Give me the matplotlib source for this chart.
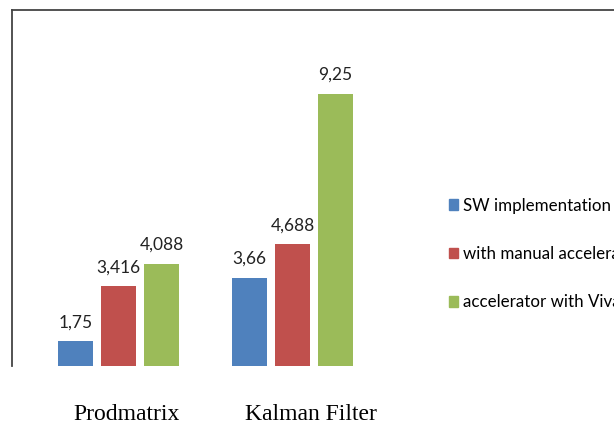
"""
Grouped bar chart: speed-up of Prodmatrix and Kalman Filter
"""
import matplotlib.pyplot as plt
from matplotlib.patches import Patch
from matplotlib.transforms import ScaledTranslation
import numpy as np

CATEGORIES = ["Prodmatrix", "Kalman Filter"]
SERIES = ["SW implementation", "with manual acceleration", "accelerator with Vivado HLS"]
SW_VALUES = [1.75, 3.66]
MANUAL_VALUES = [3.416, 4.688]
HLS_VALUES = [4.088, 9.25]

COLORS = ["#4F81BD", "#C0504D", "#9BBB59"]

plt.rcParams["font.family"] = ["Lato", "DejaVu Sans"]

fig = plt.figure(figsize=(6.14, 4.26), dpi=100)
fig.patch.set_facecolor("white")

# axes runs past the right edge of the figure, so the frame is cut off there
ax = fig.add_axes([12 / 614, 60 / 426, 1.2, 356 / 426])

x = np.arange(len(CATEGORIES))
step = 0.247
width = 0.2
for i, (vals, name) in enumerate(zip([SW_VALUES, MANUAL_VALUES, HLS_VALUES], SERIES)):
    bars = ax.bar(x + (i - 1) * step, np.array(vals) - 1, bottom=1, width=width,
                  color=COLORS[i], label=name)
    ax.bar_label(bars, labels=[str(v).replace(".", ",") for v in vals],
                 padding=8, fontsize=12.5, color="#222222")

ax.set_xlim(-0.612, -0.612 + 1.2 * 614 / 174)
ax.set_ylim(1, 1 + 356 / 33)

for side in ["bottom", "right"]:
    ax.spines[side].set_visible(False)
for side in ["left", "top"]:
    ax.spines[side].set_color("#444444")
    ax.spines[side].set_linewidth(1.3)
ax.set_yticks([])
ax.set_xticks(x)
ax.set_xticklabels(CATEGORIES, family="Liberation Serif", fontsize=17)
ax.tick_params(axis="x", length=0, pad=27)
# the category names sit a little right of their bar groups
for lab, dx in zip(ax.get_xticklabels(), [8, 18]):
    lab.set_transform(lab.get_transform() + ScaledTranslation(dx / 100, 0, fig.dpi_scale_trans))

handles = [Patch(color=c) for c in COLORS]
fig.legend(handles, SERIES, loc="upper left", bbox_to_anchor=(442 / 614, 1 - 191 / 426),
           frameon=False, fontsize=12.2, handlelength=0.55, handleheight=0.6,
           handletextpad=0.3, labelspacing=1.9, borderaxespad=0)

fig.savefig("out.png", dpi=100)
